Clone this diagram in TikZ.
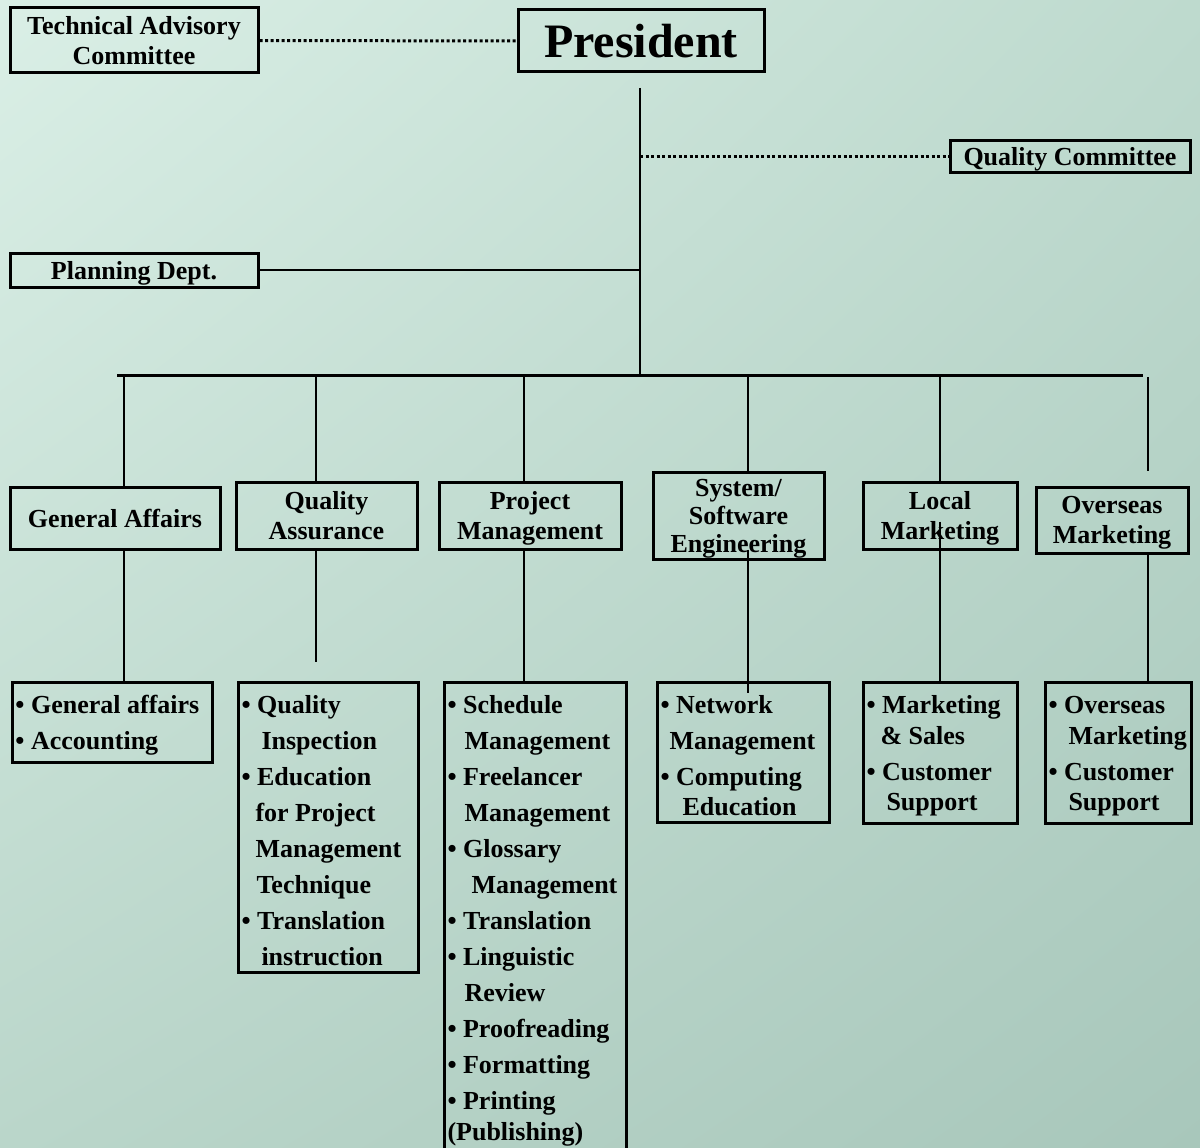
\documentclass[tikz,border=0pt]{standalone}
\usepackage{fontspec}
\setmainfont{Liberation Serif}
\usetikzlibrary{shadings}
\definecolor{bgUL}{RGB}{218,239,230}
\definecolor{bgUR}{RGB}{190,218,206}
\definecolor{bgLL}{RGB}{186,214,202}
\definecolor{bgLR}{RGB}{168,199,187}
\hyphenpenalty=10000
\exhyphenpenalty=10000
\newcommand{\indnt}[1][17pt]{\hspace*{#1}}
\newcommand{\firstln}{\rule{0pt}{24pt}}
\tikzset{
	unit/.style={draw,line width=3pt,inner sep=0pt,align=center,text depth=0pt,font=\bfseries\fontsize{26}{30}\selectfont},
	list/.style={draw,line width=3pt,anchor=north west,inner xsep=3pt,inner ysep=7pt,align=flush left,font=\bfseries\fontsize{26}{36}\selectfont},
	link/.style={line width=2pt},
	bus/.style={line width=3pt},
	dotlink/.style={line width=3pt,dash pattern=on 3pt off 2.5pt}
}
\begin{document}
\begin{tikzpicture}[x=1pt,y=-1pt]
		\useasboundingbox(0,0)rectangle(1200,1148);
		\shade[upper left=bgUL,upper right=bgUR,lower left=bgLL,lower right=bgLR](0,0)rectangle(1200,1148);
		
		\node[unit,minimum width=248pt,minimum height=65pt](tac) at (134,40.5) {Technical Advisory\\Committee};
		\node[unit,minimum width=246pt,minimum height=62pt,font=\bfseries\fontsize{48}{50}\selectfont](pres) at (641,41) {President};
		\node[unit,minimum width=240pt,minimum height=32pt](qc) at (1070,156) {Quality Committee};
		\node[unit,minimum width=248pt,minimum height=34pt](plan) at (134,270) {Planning Dept.};
		
		\coordinate(top) at (640,88);
		\coordinate(qcj) at (640,156);
		\coordinate(hub) at (640,375);
		\coordinate(busl) at (117,375);
		\coordinate(busr) at (1143,375);
		
		\draw[dotlink](tac)--(pres);
		\draw[link,line width=2.5pt](top)--(hub);
		\draw[dotlink](qcj)--(qc.west);
		\draw[link](plan.east)--(plan.east-|hub);
		\draw[bus](busl)--(busr);
		
		\node[unit,minimum width=210pt,minimum height=62pt](ga) at (115,518) {General Affairs};
		\node[unit,minimum width=181pt,minimum height=67pt](qa) at (326.5,515.5) {Quality\\Assurance};
		\node[unit,minimum width=182pt,minimum height=67pt](pm) at (530,515.5) {Project\\Management};
		\node[unit,minimum width=171pt,minimum height=87pt,font=\bfseries\fontsize{26}{28}\selectfont](ss) at (738.5,515.5) {System/\\Software\\Engineering};
		\node[unit,minimum width=154pt,minimum height=67pt](lm) at (940,515.5) {Local\\Marketing};
		\node[unit,minimum width=152pt,minimum height=66pt](om) at (1112,520) {Overseas\\Marketing};
		
		\coordinate(dga) at (124,375);
		\coordinate(dqa) at (316,375);
		\coordinate(dpm) at (524,375);
		\coordinate(dss) at (748,375);
		\coordinate(dlm) at (940,375);
		\coordinate(dom) at (1148,377);
		
		\draw[link](dga)--(dga|-ga.north);
		\draw[link](dqa)--(dqa|-qa.north);
		\draw[link](dpm)--(dpm|-pm.north);
		\draw[link](dss)--(dss|-ss.north);
		\draw[link](dlm)--(dlm|-lm.north);
		\draw[link](dom)--([yshift=15pt]dom|-om.north);
		
		\node[list,text width=194pt](gad) at (11,681) {\firstln• General affairs\\• Accounting};
		\node[list,text width=174pt](qad) at (237,681) {\firstln• Quality\\\indnt[20pt]Inspection\\• Education\\\indnt[14pt]for Project\\\indnt[14pt]Management\\\indnt[15pt]Technique\\• Translation\\\indnt[20pt]instruction};
		\node[list,text width=176pt](pmd) at (443,681) {\firstln• Schedule\\\indnt Management\\• Freelancer\\\indnt Management\\• Glossary\\\indnt[24pt]Management\\• Translation\\• Linguistic\\\indnt[17pt]Review\\• Proofreading\\• Formatting\\• Printing\\[-5pt](Publishing)};
		\node[list,text width=166pt](ssd) at (656,681) {\firstln• Network\\\indnt[9pt]Management\\• Computing\\[-6pt]\indnt[22pt]Education};
		\node[list,text width=148pt](lmd) at (862,681) {\firstln• Marketing\\[-5pt]\indnt[14pt]\& Sales\\• Customer\\[-6pt]\indnt[20pt]Support};
		\node[list,text width=140pt](omd) at (1044,681) {\firstln• Overseas\\[-5pt]\indnt[20pt]Marketing\\• Customer\\[-6pt]\indnt[20pt]Support};
		
		\draw[link](dga|-ga.south)--(dga|-gad.north);
		\draw[link](dqa|-qa.south)--([yshift=19pt]dqa|-qad.north);
		\draw[link](dpm|-pm.south)--(dpm|-pmd.north);
		\draw[link]([yshift=11pt]dss|-ss.south)--([yshift=-12pt]dss|-ssd.north);
		\draw[link]([yshift=29pt]dlm|-lm.south)--(dlm|-lmd.north);
		\draw[link](dom|-om.south)--(dom|-omd.north);
	\end{tikzpicture}
\end{document}
